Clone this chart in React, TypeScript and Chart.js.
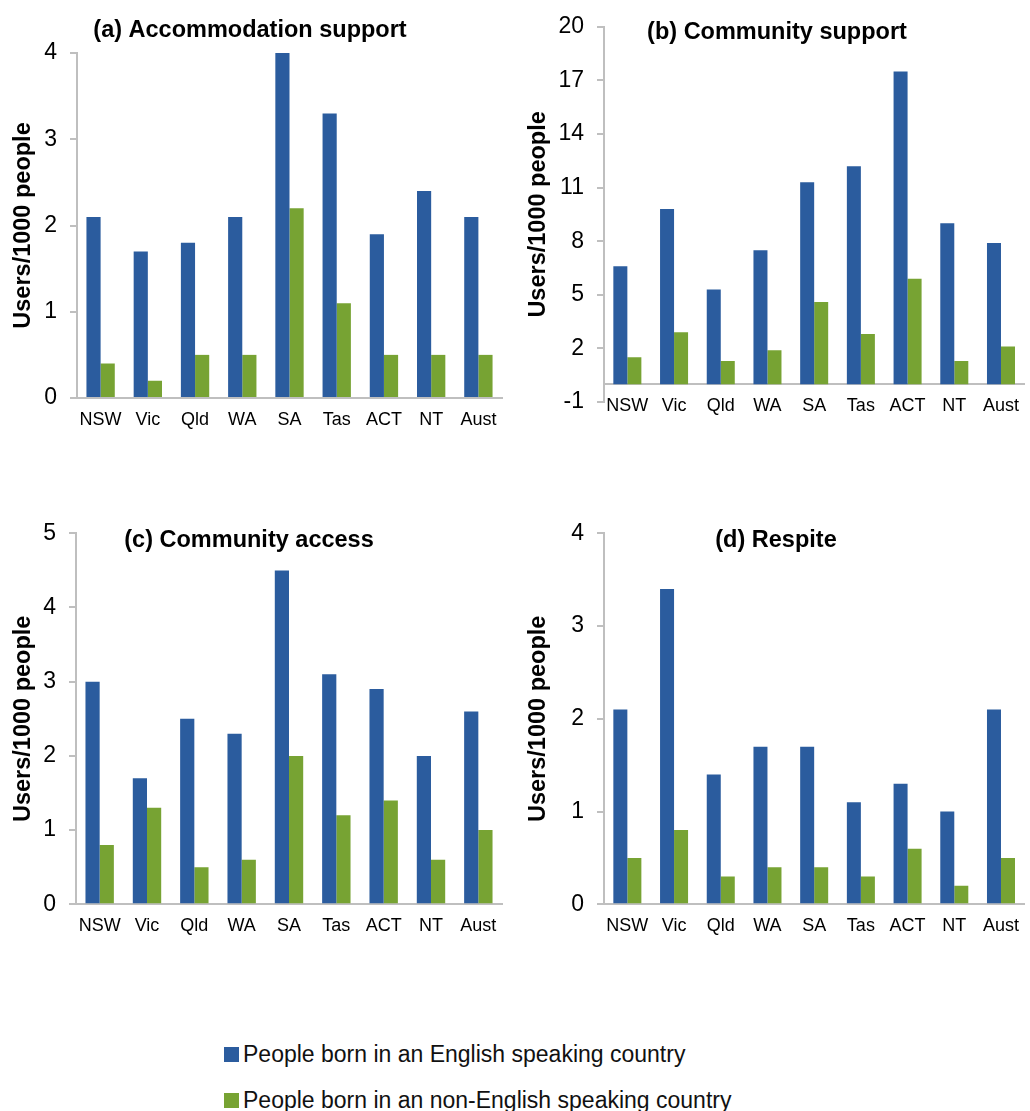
import React, { useEffect, useRef } from "react";
import { Chart, registerables } from "chart.js";

Chart.register(...registerables);

const categories = ["NSW", "Vic", "Qld", "WA", "SA", "Tas", "ACT", "NT", "Aust"];
const seriesNames = [
  "People born in an English speaking country",
  "People born in an non-English speaking country",
];

const accommodationEnglish = [2.1, 1.7, 1.8, 2.1, 4.0, 3.3, 1.9, 2.4, 2.1];
const accommodationNonEnglish = [0.4, 0.2, 0.5, 0.5, 2.2, 1.1, 0.5, 0.5, 0.5];
const accommodationTicks = [0, 1, 2, 3, 4];

const communitySupportEnglish = [6.6, 9.8, 5.3, 7.5, 11.3, 12.2, 17.5, 9.0, 7.9];
const communitySupportNonEnglish = [1.5, 2.9, 1.3, 1.9, 4.6, 2.8, 5.9, 1.3, 2.1];
const communitySupportTicks = [-1, 2, 5, 8, 11, 14, 17, 20];

const communityAccessEnglish = [3.0, 1.7, 2.5, 2.3, 4.5, 3.1, 2.9, 2.0, 2.6];
const communityAccessNonEnglish = [0.8, 1.3, 0.5, 0.6, 2.0, 1.2, 1.4, 0.6, 1.0];
const communityAccessTicks = [0, 1, 2, 3, 4, 5];

const respiteEnglish = [2.1, 3.4, 1.4, 1.7, 1.7, 1.1, 1.3, 1.0, 2.1];
const respiteNonEnglish = [0.5, 0.8, 0.3, 0.4, 0.4, 0.3, 0.6, 0.2, 0.5];
const respiteTicks = [0, 1, 2, 3, 4];

const BLUE = "#2B5C9E";
const GREEN = "#77A333";
const AXIS = "#BFBFBF";
const FONT = "'Liberation Sans', Arial, sans-serif";

type PanelCfg = {
  title: string;
  english: number[];
  nonEnglish: number[];
  ticks: number[];
  left: number;
  top: number;
  width: number;
  plotLeft: number;
  plotTop: number;
  plotBottom: number;
  plotRight: number;
  titleX: number;
  titleY: number;
};

const panels: PanelCfg[] = [
  {
    title: "(a) Accommodation support",
    english: accommodationEnglish,
    nonEnglish: accommodationNonEnglish,
    ticks: accommodationTicks,
    left: 0, top: 0, width: 515,
    plotLeft: 77, plotTop: 53, plotBottom: 398, plotRight: 502,
    titleX: 250, titleY: 31,
  },
  {
    title: "(b) Community support",
    english: communitySupportEnglish,
    nonEnglish: communitySupportNonEnglish,
    ticks: communitySupportTicks,
    left: 515, top: 0, width: 515,
    plotLeft: 89, plotTop: 26, plotBottom: 402, plotRight: 515,
    titleX: 262, titleY: 33,
  },
  {
    title: "(c) Community access",
    english: communityAccessEnglish,
    nonEnglish: communityAccessNonEnglish,
    ticks: communityAccessTicks,
    left: 0, top: 480, width: 515,
    plotLeft: 76, plotTop: 53.3, plotBottom: 424.3, plotRight: 502,
    titleX: 249, titleY: 61,
  },
  {
    title: "(d) Respite",
    english: respiteEnglish,
    nonEnglish: respiteNonEnglish,
    ticks: respiteTicks,
    left: 515, top: 480, width: 515,
    plotLeft: 89, plotTop: 53.3, plotBottom: 424.3, plotRight: 515,
    titleX: 261, titleY: 61,
  },
];

const BOTTOM_SPACE = 45;

function Panel({ cfg }: { cfg: PanelCfg }) {
  const ref = useRef<HTMLCanvasElement | null>(null);
  const height = Math.round(cfg.plotBottom + BOTTOM_SPACE);

  useEffect(() => {
    if (!ref.current) return;
    const titlePlugin = {
      id: "panelTitle",
      afterDraw(chart: any) {
        const ctx = chart.ctx;
        ctx.save();
        ctx.font = `bold 23.5px ${FONT}`;
        ctx.fillStyle = "#000";
        ctx.textAlign = "center";
        ctx.textBaseline = "middle";
        ctx.fillText(cfg.title, cfg.titleX, cfg.titleY);
        ctx.restore();
      },
    };
    const chart = new Chart(ref.current, {
      type: "bar",
      data: {
        labels: categories,
        datasets: [
          {
            label: seriesNames[0],
            data: cfg.english,
            backgroundColor: BLUE,
            categoryPercentage: 0.6,
            barPercentage: 1.0,
          },
          {
            label: seriesNames[1],
            data: cfg.nonEnglish,
            backgroundColor: GREEN,
            categoryPercentage: 0.6,
            barPercentage: 1.0,
          },
        ],
      },
      options: {
        animation: false,
        responsive: false,
        maintainAspectRatio: false,
        devicePixelRatio: 1,
        layout: {
          padding: {
            top: cfg.plotTop,
            right: cfg.width - cfg.plotRight,
            left: 0,
            bottom: height - cfg.plotBottom,
          },
        },
        plugins: {
          legend: { display: false },
          tooltip: { enabled: false },
          title: { display: false },
        },
        scales: {
          x: {
            position: { y: 0 },
            grid: { display: false, drawTicks: false },
            border: { display: true, color: AXIS, width: 2 },
            ticks: {
              color: "#000",
              font: { family: FONT, size: 18 },
              padding: 11,
              maxRotation: 0,
              autoSkip: false,
            },
          },
          y: {
            min: cfg.ticks[0],
            max: cfg.ticks[cfg.ticks.length - 1],
            afterBuildTicks: (s: any) => {
              s.ticks = cfg.ticks.map((v) => ({ value: v }));
            },
            afterFit: (s: any) => {
              s.width = cfg.plotLeft;
            },
            grid: {
              drawOnChartArea: false,
              drawTicks: true,
              tickLength: 7,
              color: AXIS,
              lineWidth: 2,
            },
            border: { display: true, color: AXIS, width: 2 },
            ticks: {
              color: "#000",
              font: { family: FONT, size: 23 },
              padding: 13,
            },
            title: {
              display: true,
              text: "Users/1000 people",
              color: "#000",
              font: { family: FONT, size: 23.5, weight: "bold" },
              padding: { top: 9, bottom: 0 },
            },
          },
        },
      },
      plugins: [titlePlugin],
    });
    return () => chart.destroy();
  }, [cfg]);

  return (
    <canvas
      ref={ref}
      width={cfg.width}
      height={height}
      style={{
        position: "absolute",
        left: cfg.left,
        top: cfg.top,
        width: cfg.width,
        height: height,
      }}
    />
  );
}

function LegendRow({ color, text, top }: { color: string; text: string; top: number }) {
  return (
    <div
      style={{
        position: "absolute",
        left: 224,
        top,
        display: "flex",
        alignItems: "center",
        height: 23,
        fontFamily: FONT,
        fontSize: 23,
        lineHeight: "23px",
        color: "#111",
        whiteSpace: "nowrap",
      }}
    >
      <span
        style={{
          display: "inline-block",
          width: 15,
          height: 15,
          background: color,
          marginRight: 4,
        }}
      />
      <span>{text}</span>
    </div>
  );
}

export default function App() {
  return (
    <div
      style={{
        position: "absolute",
        left: 0,
        top: 0,
        width: 1030,
        height: 1111,
        background: "#fff",
        overflow: "hidden",
      }}
    >
      {panels.map((p) => (
        <Panel key={p.title} cfg={p} />
      ))}
      <LegendRow color={BLUE} text={seriesNames[0]} top={1043} />
      <LegendRow color={GREEN} text={seriesNames[1]} top={1089} />
    </div>
  );
}
